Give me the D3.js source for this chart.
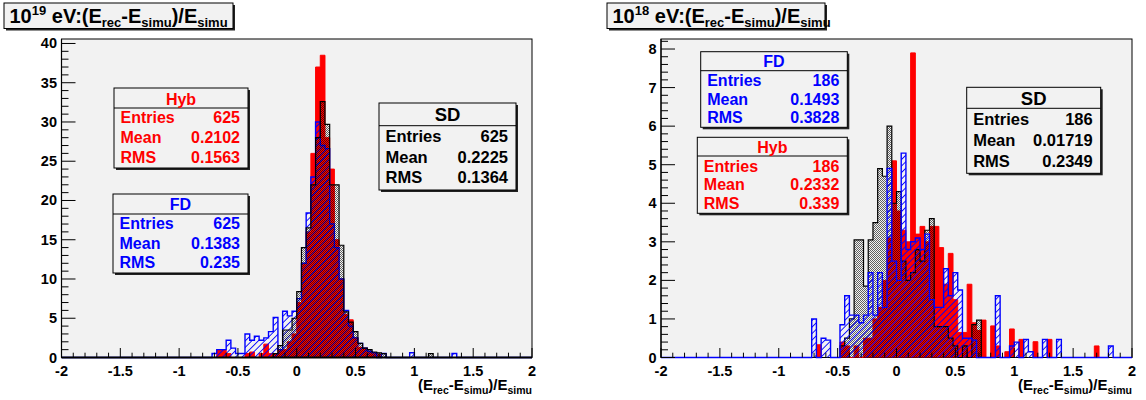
<!DOCTYPE html>
<html><head><meta charset="utf-8">
<script src="https://cdn.jsdelivr.net/npm/d3@7"></script>
<style>
body{margin:0;background:#fff;}
svg{display:block;font-family:"Liberation Sans",Arial,Helvetica,sans-serif;font-weight:bold;}
</style></head><body>
<svg id="c" width="1146" height="400"></svg>
<script>
// ---------------- data ----------------
const binWidth = 0.04;
const xDomain = [-2, 2];
const xTicks = [-2, -1.5, -1, -0.5, 0, 0.5, 1, 1.5, 2];
const xTickLabels = ["-2", "-1.5", "-1", "-0.5", "0", "0.5", "1", "1.5", "2"];
const yTicksLeft = [0, 5, 10, 15, 20, 25, 30, 35, 40];
const yTicksRight = [0, 1, 2, 3, 4, 5, 6, 7, 8];
const statLabels = ["Entries", "Mean", "RMS"];

// left panel: 10^19 eV  (bin lower edges / heights)
const leftHybBins = [-0.68,-0.64,-0.6,-0.44,-0.4,-0.32,-0.28,-0.24,-0.2,-0.16,-0.12,-0.08,-0.04,0,0.04,0.08,0.12,0.16,0.2,0.24,0.28,0.32,0.36,0.4,0.44,0.48,0.52,0.56,0.6,0.64,0.68];
const leftHybCounts = [1,1,0.5,0.5,0.7,0.5,1.7,0.5,0.5,1,1,2,3,7,12,16,26,37,38.5,28,24,15,10,5.5,4.8,2.5,1.3,1.2,0.8,0.5,0.4];
const leftSdBins = [-0.2,-0.16,-0.12,-0.08,-0.04,0,0.04,0.08,0.12,0.16,0.2,0.24,0.28,0.32,0.36,0.4,0.44,0.48,0.52,0.56,0.6,0.64,0.68,0.72,1.12];
const leftSdCounts = [0.5,1.5,3.5,3.5,5,8.4,14,16.5,22,28,32.6,29.7,22,22,14.3,5.8,4.5,3.3,1.8,1.2,1,0.7,0.6,0.5,0.5];
const leftFdBins = [-0.72,-0.68,-0.64,-0.6,-0.56,-0.52,-0.48,-0.44,-0.4,-0.36,-0.32,-0.28,-0.24,-0.2,-0.16,-0.12,-0.08,-0.04,0,0.04,0.08,0.12,0.16,0.2,0.24,0.28,0.32,0.36,0.4,0.44,0.48,0.52,0.56,0.6,0.64,0.72,0.96,1.32];
const leftFdCounts = [0.5,1,1,2.2,1.2,0.5,0.5,3,2.2,2.7,2.2,2.5,3.3,5.1,1,5.9,5.3,5.9,7.5,12,18.4,23,30,27,26.6,17,14,10,6,4,2.5,1.8,1.2,0.8,0.6,0.5,0.6,0.5];
const leftHybStats = ["625", "0.2102", "0.1563"];
const leftFdStats = ["625", "0.1383", "0.235"];
const leftSdStats = ["625", "0.2225", "0.1364"];

// right panel: 10^18 eV
const rightHybBins = [-0.68,-0.48,-0.44,-0.36,-0.28,-0.24,-0.2,-0.16,-0.12,-0.08,-0.04,0,0.04,0.08,0.12,0.16,0.2,0.24,0.28,0.32,0.36,0.4,0.44,0.48,0.52,0.56,0.6,0.64,0.68,0.72,0.8,0.84,0.92,0.96,1.04,1.16,1.28,1.68];
const rightHybCounts = [0.33,0.4,0.3,0.3,0.5,0.5,1.0,1.3,2.0,3.1,5.1,3.8,3.3,3.0,7.9,3.2,3.4,3.0,3.4,3.4,2.85,1.9,2.7,1.5,0.65,0.65,1.9,0.9,0.7,0.97,0.82,0.3,0.15,0.74,0.47,0.41,0.47,0.3];
const rightSdBins = [-0.48,-0.44,-0.4,-0.36,-0.32,-0.28,-0.24,-0.2,-0.16,-0.12,-0.08,-0.04,0,0.04,0.08,0.12,0.16,0.2,0.24,0.28,0.32,0.36,0.4,0.44,0.48,0.56,0.64,0.68];
const rightSdCounts = [0.3,0.5,1.0,3.05,3.05,1.85,3.05,3.5,4.9,4.7,6.0,4.0,4.3,2.5,2.0,2.2,2.8,2.5,3.3,3.6,0.8,0.8,0.8,0.5,0.3,0.3,0.85,0.97];
const rightFdBins = [-0.72,-0.64,-0.6,-0.48,-0.44,-0.4,-0.36,-0.32,-0.28,-0.24,-0.2,-0.16,-0.12,-0.08,-0.04,0,0.04,0.08,0.12,0.16,0.2,0.24,0.28,0.32,0.36,0.4,0.44,0.48,0.52,0.56,0.6,0.64,0.84,0.96,1.0,1.08,1.12,1.24,1.36,1.8];
const rightFdCounts = [1.0,0.5,0.45,0.85,1.6,1.1,1.1,0.9,1.1,2.2,1.1,2.2,1.3,4.9,2.5,2.0,5.3,2.8,3.0,3.1,2.8,3.2,1.5,1.3,1.3,2.3,1.6,2.2,1.75,0.5,0.5,0.45,1.6,0.3,0.4,0.47,0.15,0.47,0.47,0.3];
const rightFdStats = ["186", "0.1493", "0.3828"];
const rightHybStats = ["186", "0.2332", "0.339"];
const rightSdStats = ["186", "0.01719", "0.2349"];

// ---------------- drawing ----------------
const svg = d3.select("#c");
const defs = svg.append("defs");
// SD dotted pattern
const pSd = defs.append("pattern").attr("id","pSd").attr("width",2).attr("height",2)
  .attr("patternUnits","userSpaceOnUse");
pSd.append("rect").attr("x",0).attr("y",0).attr("width",1).attr("height",1).attr("fill","#000").attr("fill-opacity",0.6);
pSd.append("rect").attr("x",1).attr("y",1).attr("width",1).attr("height",1).attr("fill","#000").attr("fill-opacity",0.6);
// FD hatch pattern
const pFd = defs.append("pattern").attr("id","pFd").attr("width",4.6).attr("height",4.6)
  .attr("patternUnits","userSpaceOnUse").attr("patternTransform","rotate(45)");
pFd.append("rect").attr("x",0).attr("y",0).attr("width",0.9).attr("height",4.6).attr("fill","#0000ff");

const series = {
  hyb: {fill:"#ff0000", stroke:"#ff0000", sw:1},
  sd:  {fill:"url(#pSd)", stroke:"#000000", sw:1.2},
  fd:  {fill:"url(#pFd)", stroke:"#0000ff", sw:1.4}
};

function fullHist(bins, counts){
  const n = Math.round((xDomain[1]-xDomain[0])/binWidth);
  const arr = new Array(n).fill(0);
  bins.forEach((b,i)=>{ arr[Math.round((b-xDomain[0])/binWidth)] = counts[i]; });
  return arr;
}

function drawPanel(cfg){
  const g = svg.append("g");
  const x = d3.scaleLinear().domain(xDomain).range([cfg.x0, cfg.x1]);
  const y = d3.scaleLinear().domain([0, cfg.ymax]).range([cfg.yBot, cfg.yTop]);
  // frame
  g.append("rect").attr("x",cfg.x0).attr("y",cfg.yTop).attr("width",cfg.x1-cfg.x0)
    .attr("height",cfg.yBot-cfg.yTop).attr("fill","#f2f2f2").attr("stroke","#000").attr("stroke-width",1);
  const clip = "clip"+cfg.id;
  defs.append("clipPath").attr("id",clip).append("rect").attr("x",cfg.x0).attr("y",cfg.yTop)
    .attr("width",cfg.x1-cfg.x0).attr("height",cfg.yBot-cfg.yTop+2);
  const hg = g.append("g").attr("clip-path",`url(#${clip})`);

  cfg.order.forEach(key=>{
    const h = fullHist(cfg.data[key][0], cfg.data[key][1]);
    const st = series[key];
    let d = `M${x(xDomain[0])},${y(0)}`;
    h.forEach((v,i)=>{
      const xl = xDomain[0]+i*binWidth;
      d += `L${x(xl)},${y(v)}L${x(xl+binWidth)},${y(v)}`;
    });
    d += `L${x(xDomain[1])},${y(0)}`;
    hg.append("path").attr("d",d+"Z").attr("fill",st.fill).attr("stroke","none");
    hg.append("path").attr("d",d).attr("fill","none").attr("stroke",st.stroke)
      .attr("stroke-width",st.sw).attr("stroke-linejoin","miter");
  });

  // x axis
  const xMinor = d3.range(-20, 21).map(k=>k/10);
  g.selectAll(null).data(xMinor).enter().append("line")
    .attr("x1",d=>x(d)).attr("x2",d=>x(d)).attr("y1",cfg.yBot)
    .attr("y2",d=> Math.abs(d*2-Math.round(d*2))<1e-6 ? cfg.yBot-9.5 : cfg.yBot-4.8)
    .attr("stroke","#000").attr("stroke-width",1);
  g.selectAll(null).data(xTicks).enter().append("text")
    .attr("x",d=>x(d)).attr("y",375.5).attr("text-anchor","middle")
    .attr("font-size",14.5).text((d,i)=>xTickLabels[i]);
  // y axis
  const yT = cfg.yTicks;
  const step = yT[1]-yT[0];
  const yMinor = d3.range(0, Math.round(cfg.ymax/step*5)+1).map(k=>k*step/5).filter(v=>v<=cfg.ymax);
  g.selectAll(null).data(yMinor).enter().append("line")
    .attr("y1",d=>y(d)).attr("y2",d=>y(d)).attr("x1",cfg.x0)
    .attr("x2",(d,i)=> i%5===0 ? cfg.x0+14 : cfg.x0+7)
    .attr("stroke","#000").attr("stroke-width",1);
  g.selectAll(null).data(yT).enter().append("text")
    .attr("x",cfg.x0-4.5).attr("y",d=>y(d)+5).attr("text-anchor","end")
    .attr("font-size",14.5).text(d=>d);
  // axis lines
  g.append("line").attr("x1",cfg.x0).attr("x2",cfg.x0).attr("y1",cfg.yTop).attr("y2",cfg.yBot)
    .attr("stroke","#000").attr("stroke-width",1.2);
  if(cfg.axisOnTop){
    g.append("line").attr("x1",cfg.x0).attr("x2",cfg.x1).attr("y1",cfg.yBot).attr("y2",cfg.yBot)
      .attr("stroke","#000").attr("stroke-width",1.8);
  }
  // axis title
  const at = g.append("text").attr("x",cfg.x1).attr("y",390).attr("text-anchor","end").attr("font-size",15);
  at.append("tspan").text("(E");
  at.append("tspan").attr("font-size",10.5).attr("dy",4).text("rec");
  at.append("tspan").attr("dy",-4).text("-E");
  at.append("tspan").attr("font-size",10.5).attr("dy",4).text("simu");
  at.append("tspan").attr("dy",-4).text(")/E");
  at.append("tspan").attr("font-size",10.5).attr("dy",4).text("simu");

  // title box
  const tb = cfg.title;
  g.append("rect").attr("x",tb.x+2).attr("y",tb.y+2).attr("width",tb.w).attr("height",tb.h).attr("fill","#222");
  g.append("rect").attr("x",tb.x).attr("y",tb.y).attr("width",tb.w).attr("height",tb.h)
    .attr("fill","#f2f2f2").attr("stroke","#000").attr("stroke-width",1);
  const tt = g.append("text").attr("x",tb.x+5.5).attr("y",tb.y+19.5).attr("font-size",20);
  tt.append("tspan").text("10");
  tt.append("tspan").attr("font-size",13).attr("dy",-8).text(tb.exp);
  tt.append("tspan").attr("dy",8).text(" eV:(E");
  tt.append("tspan").attr("font-size",13).attr("dy",4).text("rec");
  tt.append("tspan").attr("dy",-4).text("-E");
  tt.append("tspan").attr("font-size",13).attr("dy",4).text("simu");
  tt.append("tspan").attr("dy",-4).text(")/E");
  tt.append("tspan").attr("font-size",13).attr("dy",4).text("simu");

  // stats boxes
  cfg.boxes.forEach(b=>{
    g.append("rect").attr("x",b.x+2).attr("y",b.y+2).attr("width",b.w).attr("height",b.h).attr("fill","#222");
    g.append("rect").attr("x",b.x).attr("y",b.y).attr("width",b.w).attr("height",b.h)
      .attr("fill","#f2f2f2").attr("stroke","#000").attr("stroke-width",1);
    g.append("line").attr("x1",b.x).attr("x2",b.x+b.w).attr("y1",b.div).attr("y2",b.div)
      .attr("stroke","#000").attr("stroke-width",1);
    g.append("text").attr("x",b.x+b.w/2).attr("y",b.tY).attr("text-anchor","middle")
      .attr("font-size",b.tFs).attr("fill",b.color).text(b.name);
    statLabels.forEach((lab,i)=>{
      g.append("text").attr("x",b.x+6.5).attr("y",b.rows[i]).attr("font-size",b.fs)
        .attr("fill",b.color).text(lab);
      g.append("text").attr("x",b.x+b.w-8).attr("y",b.rows[i]).attr("font-size",b.fs)
        .attr("text-anchor","end").attr("fill",b.color).text(b.vals[i]);
    });
  });
}

drawPanel({
  id:"L", x0:61.5, x1:532, yTop:39, yBot:357.5, ymax:40.57, yTicks:yTicksLeft,
  order:["hyb","fd","sd"], axisOnTop:true,
  data:{hyb:[leftHybBins,leftHybCounts], sd:[leftSdBins,leftSdCounts], fd:[leftFdBins,leftFdCounts]},
  title:{x:4, y:3, w:229, h:25.5, exp:"19"},
  boxes:[
    {name:"Hyb", color:"#ff0000", x:114, y:88, w:134, h:80, div:108, tY:104.5, tFs:16, fs:16, rows:[123,143,162.5], vals:leftHybStats},
    {name:"FD", color:"#0000ff", x:113, y:194, w:135, h:79, div:214, tY:209.5, tFs:16, fs:16, rows:[228.5,248.5,267.5], vals:leftFdStats},
    {name:"SD", color:"#000000", x:379, y:103, w:137, h:87, div:125.7, tY:120.5, tFs:18.5, fs:16.5, rows:[142,162.5,183], vals:leftSdStats}
  ]
});
drawPanel({
  id:"R", x0:661, x1:1132, yTop:39, yBot:357.5, ymax:8.26, yTicks:yTicksRight,
  order:["hyb","sd","fd"], axisOnTop:false,
  data:{hyb:[rightHybBins,rightHybCounts], sd:[rightSdBins,rightSdCounts], fd:[rightFdBins,rightFdCounts]},
  title:{x:607, y:3, w:218, h:25.5, exp:"18"},
  boxes:[
    {name:"FD", color:"#0000ff", x:700.7, y:51.7, w:146.6, h:75.6, div:70.7, tY:66.5, tFs:16, fs:16, rows:[86,105,122.5], vals:rightFdStats},
    {name:"Hyb", color:"#ff0000", x:697.3, y:137.3, w:150, h:76, div:156, tY:153, tFs:16, fs:16, rows:[171.5,190,208.5], vals:rightHybStats},
    {name:"SD", color:"#000000", x:966.7, y:87.3, w:134, h:86, div:108.3, tY:104.5, tFs:18.5, fs:16.5, rows:[124.5,146,166.5], vals:rightSdStats}
  ]
});
</script>
</body></html>
